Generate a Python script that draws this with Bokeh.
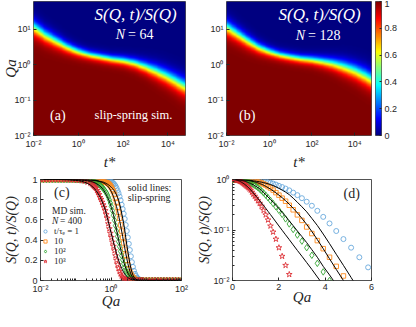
import numpy as np
from bokeh.plotting import figure
from bokeh.layouts import row, column
from bokeh.models import Label, LinearColorMapper, FixedTicker, Range1d, Legend, LegendItem
from bokeh.embed import file_html
from bokeh.resources import INLINE

# ---------------- data ----------------
# (a),(b): log10(Qa) of the S=0.5 level and 10-90 % width (decades) versus log10 t*
heat_log_t = [-2.0, -1.5, -1.0, -0.5, 0.0, 0.5, 1.0, 1.5, 2.0, 2.5, 3.0, 3.5, 4.0, 4.5, 4.8]
heat_mid_N64 = [1.07, 0.84, 0.67, 0.50, 0.37, 0.28, 0.22, 0.16, 0.12, 0.05, -0.06, -0.19, -0.34, -0.52, -0.63]
heat_mid_N128 = [1.07, 0.87, 0.67, 0.49, 0.37, 0.28, 0.22, 0.17, 0.14, 0.09, 0.03, -0.06, -0.17, -0.32, -0.43]
heat_width = [0.55, 0.50, 0.45, 0.38, 0.33, 0.30, 0.30, 0.30, 0.32, 0.36, 0.42, 0.50, 0.55, 0.60, 0.60]
t_lim = [0.01, 6.1e4]
q_lim = [0.01, 62.0]
cbar_ticks = [0.0, 0.2, 0.4, 0.6, 0.8, 1.0]
cbar_labels = ["0", "0.2", "0.4", "0.6", "0.8", "1"]

# (c),(d): Qa values of the MD points / slip-spring curves
qa = [0.01, 0.0121, 0.0147, 0.0178, 0.0215, 0.0261, 0.0316, 0.0383, 0.0464, 0.0562, 0.0681, 0.0825,
      0.1, 0.121, 0.147, 0.178, 0.215, 0.261,
      0.287, 0.307, 0.328, 0.351, 0.375, 0.401, 0.429, 0.459, 0.491, 0.525, 0.561, 0.600, 0.642,
      0.686, 0.734, 0.784, 0.839, 0.897, 0.959, 1.025, 1.097, 1.172, 1.254, 1.341, 1.433, 1.533,
      1.639, 1.753, 1.874, 2.004, 2.143, 2.291, 2.450, 2.620, 2.801, 2.996, 3.203, 3.425, 3.662,
      3.916, 4.188, 4.478, 4.788, 5.120, 5.475, 5.854, 6.260, 6.694, 7.157, 7.653, 8.184,
      10.0, 12.1, 14.7, 17.8, 21.5, 26.1, 31.6, 38.3, 46.4, 56.2, 68.1, 82.5, 100.0]

# log10 S(Q,t)/S(Q) of the MD points (read on the log axis of panel d)
md_t1 = [0.0] * 18 + [
    -0.001, -0.001, -0.001, -0.001, -0.001, -0.001, -0.001, -0.001, -0.001, -0.001, -0.002, -0.002,
    -0.002, -0.003, -0.003, -0.004, -0.005, -0.006, -0.008, -0.01, -0.013, -0.017, -0.022, -0.029,
    -0.038, -0.05, -0.063, -0.08, -0.10, -0.125, -0.15, -0.18, -0.215, -0.26, -0.31, -0.37, -0.44,
    -0.52, -0.62, -0.74, -0.87, -1.02, -1.18, -1.35, -1.54, -1.74, -1.96, -2.2, -2.45, -2.7, -3.0] + [-3.0] * 13
md_t10 = [0.0] * 14 + [-0.001, -0.001, -0.001, -0.002] + [
    -0.002, -0.002, -0.003, -0.003, -0.004, -0.004, -0.005, -0.006, -0.007, -0.008, -0.009, -0.01,
    -0.011, -0.012, -0.013, -0.015, -0.018, -0.022, -0.028, -0.035, -0.045, -0.055, -0.07, -0.09,
    -0.11, -0.14, -0.17, -0.21, -0.26, -0.31, -0.37, -0.43, -0.51, -0.60, -0.70, -0.81, -0.94,
    -1.07, -1.21, -1.37, -1.54, -1.72, -1.91, -2.12, -2.35, -2.6, -2.85, -3.0, -3.0, -3.0, -3.0] + [-3.0] * 13
md_t100 = [0.0] * 12 + [-0.001, -0.001, -0.002, -0.003, -0.004, -0.006] + [
    -0.008, -0.009, -0.01, -0.012, -0.014, -0.016, -0.019, -0.022, -0.026, -0.03, -0.035, -0.04,
    -0.046, -0.053, -0.06, -0.07, -0.082, -0.097, -0.115, -0.135, -0.16, -0.19, -0.225, -0.265,
    -0.31, -0.36, -0.415, -0.475, -0.54, -0.61, -0.69, -0.78, -0.88, -0.99, -1.10, -1.22, -1.35,
    -1.50, -1.66, -1.83, -2.0, -2.2, -2.4, -2.6, -2.8, -3.0, -3.0, -3.0, -3.0, -3.0, -3.0] + [-3.0] * 13
md_t1000 = [0.0] * 10 + [-0.001, -0.001, -0.002, -0.003, -0.005, -0.007, -0.011, -0.016] + [
    -0.02, -0.025, -0.03, -0.035, -0.04, -0.05, -0.06, -0.07, -0.085, -0.095, -0.11, -0.125,
    -0.14, -0.16, -0.185, -0.21, -0.25, -0.29, -0.33, -0.37, -0.42, -0.47, -0.53, -0.61,
    -0.70, -0.80, -0.92, -1.04, -1.18, -1.35, -1.52, -1.70, -1.88, -2.07, -2.27, -2.5, -2.7] + [-3.0] * 14 + [-3.0] * 13

# log10 S(Q,t)/S(Q) of the slip-spring curves (solid lines)
ss_t1 = [0.0] * 15 + [-0.001, -0.001, -0.002] + [
    -0.002, -0.002, -0.003, -0.003, -0.004, -0.005, -0.006, -0.007, -0.008, -0.009, -0.01, -0.011,
    -0.013, -0.015, -0.017, -0.02, -0.023, -0.026, -0.03, -0.035, -0.04, -0.046, -0.053, -0.062,
    -0.072, -0.085, -0.10, -0.12, -0.145, -0.175, -0.21, -0.25, -0.30, -0.37, -0.45, -0.54, -0.64,
    -0.77, -0.91, -1.08, -1.27, -1.48, -1.70, -1.94, -2.2, -2.5, -2.8, -3.0, -3.0, -3.0, -3.0] + [-3.0] * 13
ss_t10 = [0.0] * 14 + [-0.001, -0.001, -0.002, -0.003] + [
    -0.003, -0.004, -0.004, -0.005, -0.005, -0.006, -0.007, -0.008, -0.01, -0.011, -0.013, -0.015,
    -0.017, -0.02, -0.024, -0.028, -0.033, -0.039, -0.047, -0.056, -0.067, -0.08, -0.095, -0.113,
    -0.135, -0.16, -0.19, -0.225, -0.265, -0.31, -0.36, -0.42, -0.49, -0.57, -0.66, -0.77, -0.89,
    -1.03, -1.19, -1.37, -1.57, -1.78, -2.0, -2.24, -2.5, -2.8, -3.0, -3.0, -3.0, -3.0, -3.0] + [-3.0] * 13
ss_t100 = [0.0] * 11 + [-0.001, -0.001, -0.002, -0.003, -0.004, -0.006, -0.008] + [
    -0.01, -0.011, -0.013, -0.015, -0.017, -0.02, -0.023, -0.026, -0.03, -0.034, -0.039, -0.045,
    -0.052, -0.06, -0.07, -0.08, -0.092, -0.106, -0.122, -0.14, -0.16, -0.185, -0.22, -0.26,
    -0.30, -0.345, -0.395, -0.45, -0.51, -0.575, -0.65, -0.73, -0.82, -0.915, -1.02, -1.13, -1.25,
    -1.39, -1.54, -1.72, -1.89, -2.08, -2.3, -2.55, -2.8, -3.0, -3.0, -3.0, -3.0, -3.0, -3.0] + [-3.0] * 13
ss_t1000 = [0.0] * 8 + [-0.001, -0.001, -0.002, -0.003, -0.004, -0.005, -0.008, -0.012, -0.017, -0.025] + [
    -0.03, -0.034, -0.039, -0.044, -0.05, -0.057, -0.065, -0.074, -0.084, -0.095, -0.108, -0.122,
    -0.138, -0.155, -0.178, -0.205, -0.235, -0.265, -0.30, -0.335, -0.375, -0.42, -0.465, -0.515,
    -0.57, -0.63, -0.695, -0.765, -0.84, -0.92, -1.005, -1.095, -1.19, -1.295, -1.405, -1.52, -1.645,
    -1.78, -1.93, -2.09, -2.27, -2.47, -2.7, -3.0, -3.0, -3.0, -3.0, -3.0, -3.0, -3.0, -3.0] + [-3.0] * 13

series_labels = ["t/\u03c4\u2091 = 1", "10", "10\u00b2", "10\u00b3"]
series_colors = ["#6aa9dd", "#ff8a1c", "#33a532", "#dd3036"]
series_markers = ["circle", "square", "diamond", "star"]

# ---------------- style helpers ----------------
AX = "#262626"
SANS = "Liberation Sans"
SERIF = "Liberation Serif"
SUP = {-2: "10\u207b\u00b2", -1: "10\u207b\u00b9", 0: "10\u2070", 1: "10\u00b9", 2: "10\u00b2", 4: "10\u2074"}


def jet(n=256):
    out = []
    for i in range(n):
        x = i / (n - 1)
        r = min(max(1.5 - abs(4 * x - 3), 0), 1)
        g = min(max(1.5 - abs(4 * x - 2), 0), 1)
        b = min(max(1.5 - abs(4 * x - 1), 0), 1)
        out.append("#%02x%02x%02x" % (round(r * 255), round(g * 255), round(b * 255)))
    return out


mapper = LinearColorMapper(palette=jet(), low=0.0, high=1.0)


def make_fig(w, h, L, R, T, B, xt="linear", yt="linear", xr=(0, 1), yr=(0, 1), **kw):
    p = figure(width=w, height=h, x_axis_type=xt, y_axis_type=yt,
               x_range=Range1d(*xr), y_range=Range1d(*yr),
               min_border_left=L, min_border_right=R, min_border_top=T, min_border_bottom=B,
               output_backend="svg", toolbar_location=None, **kw)
    p.grid.visible = False
    p.outline_line_color = AX
    p.outline_line_width = 0.8
    p.border_fill_color = "white"
    for ax in p.axis:
        ax.axis_line_color = None
        ax.major_tick_in = 3
        ax.major_tick_out = 0
        ax.minor_tick_in = 2
        ax.minor_tick_out = 0
        ax.major_tick_line_color = AX
        ax.minor_tick_line_color = AX
        ax.major_label_text_font = SANS
        ax.major_label_text_font_size = "9px"
        ax.major_label_text_color = AX
        ax.major_label_standoff = 3
        ax.axis_label_text_font = SERIF
        ax.axis_label_text_font_style = "italic"
        ax.axis_label_text_color = AX
    return p


def ticks(ax, vals, labels, minor=()):
    ax.ticker = FixedTicker(ticks=[float(v) for v in vals], minor_ticks=[float(v) for v in minor])
    ax.major_label_overrides = {float(v): l for v, l in zip(vals, labels)}


def axlabel(ax, text, size, standoff):
    ax.axis_label = text
    ax.axis_label_text_font_size = "%dpx" % size
    ax.axis_label_standoff = standoff


def put(p, geo, cx, cy, text, size, color=AX, font=SERIF, style="normal",
        align="left", baseline="middle"):
    L, T, W, H = geo
    p.add_layout(Label(x=cx - L, y=(T + H) - cy, x_units="screen", y_units="screen", text=text,
                       text_font=font, text_font_size="%.1fpx" % size, text_font_style=style,
                       text_color=color, text_align=align, text_baseline=baseline))


def heat_image(mid_nodes):
    lt = np.linspace(np.log10(t_lim[0]), np.log10(t_lim[1]), 320)
    lq = np.linspace(np.log10(q_lim[0]), np.log10(q_lim[1]), 320)
    mid = np.interp(lt, heat_log_t, mid_nodes)
    w = np.interp(lt, heat_log_t, heat_width) / (2 * np.log(9))
    return 1.0 / (1.0 + np.exp((lq[:, None] - mid[None, :]) / w[None, :]))


def heat_fig(w, geo, R, mid_nodes):
    L, T, W, H = geo
    p = make_fig(w, 172, L, R, T, 172 - T - H, "log", "log", t_lim, q_lim)
    p.image(image=[heat_image(mid_nodes)], x=t_lim[0], y=q_lim[0],
            dw=t_lim[1] - t_lim[0], dh=q_lim[1] - q_lim[0], color_mapper=mapper)
    ticks(p.xaxis[0], [0.01, 1, 100, 1e4], [SUP[-2], SUP[0], SUP[2], SUP[4]])
    ticks(p.yaxis[0], [0.01, 0.1, 1, 10], [SUP[-2], SUP[-1], SUP[0], SUP[1]])
    axlabel(p.xaxis[0], "t*", 15, 2)
    return p


# ---------------- (a) ----------------
geo_a = (32, 1, 153, 138)
pa = heat_fig(195, geo_a, 10, heat_mid_N64)
axlabel(pa.yaxis[0], "Qa", 15, -8)
put(pa, geo_a, 93, 17.7, "S(Q, t)/S(Q)", 17, "white", style="italic")
put(pa, geo_a, 114.2, 38.0, "N", 14, "white", style="italic")
put(pa, geo_a, 126.5, 38.0, "= 64", 14, "white")
put(pa, geo_a, 48.5, 118.7, "(a)", 14, "white")
put(pa, geo_a, 93.1, 118.7, "slip-spring sim.", 12.5, "white")

# ---------------- (b) ----------------
geo_b = (31, 1, 145, 138)
pb = heat_fig(180, geo_b, 4, heat_mid_N128)
put(pb, geo_b, 83.1, 17.7, "S(Q, t)/S(Q)", 17, "white", style="italic")
put(pb, geo_b, 100.2, 38.9, "N", 14, "white", style="italic")
put(pb, geo_b, 112.5, 38.9, "= 128", 14, "white")
put(pb, geo_b, 43.6, 119.0, "(b)", 14, "white")

# ---------------- colour bar ----------------
pcb = make_fig(25, 172, 0, 16, 1, 33, x_axis_location=None, y_axis_location="right")
pcb.image(image=[np.linspace(cbar_ticks[0], cbar_ticks[-1], 256).reshape(256, 1)], x=0, y=0, dw=1, dh=1,
          color_mapper=mapper)
ticks(pcb.yaxis[0], cbar_ticks, cbar_labels)
pcb.yaxis[0].major_tick_in = 2
pcb.yaxis[0].minor_tick_line_color = None

# ---------------- (c), (d) ----------------
md_series = [md_t1, md_t10, md_t100, md_t1000]
ss_series = [ss_t1, ss_t10, ss_t100, ss_t1000]
qa_arr = np.array(qa)

geo_c = (36, 7, 145, 104)
pc = make_fig(194, 139, 36, 13, 7, 28, "log", "linear", (0.01, 100), (0, 1))
ticks(pc.xaxis[0], [0.01, 1, 100], [SUP[-2], SUP[0], SUP[2]],
      [m * 10.0 ** e for e in (-2, -1, 0, 1) for m in range(2, 10)] + [0.1, 10])
ticks(pc.yaxis[0], cbar_ticks, cbar_labels)
pc.yaxis[0].minor_tick_line_color = None
axlabel(pc.yaxis[0], "S(Q, t)/S(Q)", 14, 3)
axlabel(pc.xaxis[0], "Qa", 15, -4)

geo_d = (37, 7, 140, 104)
pd_ = make_fig(206, 139, 37, 29, 7, 28, "linear", "log", (0, 6), (0.01, 1))
ticks(pd_.xaxis[0], [0, 2, 4, 6], ["0", "2", "4", "6"])
pd_.xaxis[0].minor_tick_line_color = None
ticks(pd_.yaxis[0], [0.01, 0.1, 1], [SUP[-2], SUP[-1], SUP[0]],
      [m * 10.0 ** e for e in (-2, -1) for m in range(2, 10)])
axlabel(pd_.yaxis[0], "S(Q, t)/S(Q)", 14, -2)
axlabel(pd_.xaxis[0], "Qa", 15, -4)

items = []
for logs, col, mk, lab in zip(md_series, series_colors, series_markers, series_labels):
    s = 10.0 ** np.array(logs)
    sz = {"circle": 5, "square": 4.5, "diamond": 6.5, "star": 6}[mk]
    r = pc.scatter(qa_arr, s, marker=mk, size=sz, line_color=col, fill_color=None, line_width=0.9)
    pd_.scatter(qa_arr, s, marker=mk, size=sz, line_color=col, fill_color=None, line_width=0.9)
    items.append(LegendItem(label=lab, renderers=[r]))
for logs in ss_series:
    s = 10.0 ** np.array(logs)
    pc.line(qa_arr, s, line_color="black", line_width=1.0)
    pd_.line(qa_arr, s, line_color="black", line_width=1.0)

# one legend box per entry, so that the entries sit as close as in the figure
for item, yc in zip(items, [49.0, 39.0, 29.0, 19.0]):
    pc.add_layout(Legend(items=[item], location=(1, yc - 5), orientation="vertical",
                         label_text_font=SERIF, label_text_font_size="9px", label_text_color=AX,
                         label_height=10, glyph_height=10, glyph_width=8, spacing=0, padding=0,
                         margin=0, label_standoff=5, border_line_color=None,
                         background_fill_alpha=0), "center")

put(pc, geo_c, 49.5, 23.0, "(c)", 14)
put(pc, geo_c, 123.2, 18.2, "solid lines:", 10)
put(pc, geo_c, 123.2, 28.2, "slip-spring", 10)
put(pc, geo_c, 47.5, 41.5, "MD sim.", 9.5)
put(pc, geo_c, 47.5, 51.5, "N", 9.5, style="italic")
put(pc, geo_c, 55.5, 51.5, "= 400", 9.5)

put(pd_, geo_d, 148.1, 23.7, "(d)", 14)

layout = column(row(pa, pb, pcb), row(pc, pd_))
open("out.html", "w").write(file_html(layout, INLINE, "S(Q,t)/S(Q)"))
